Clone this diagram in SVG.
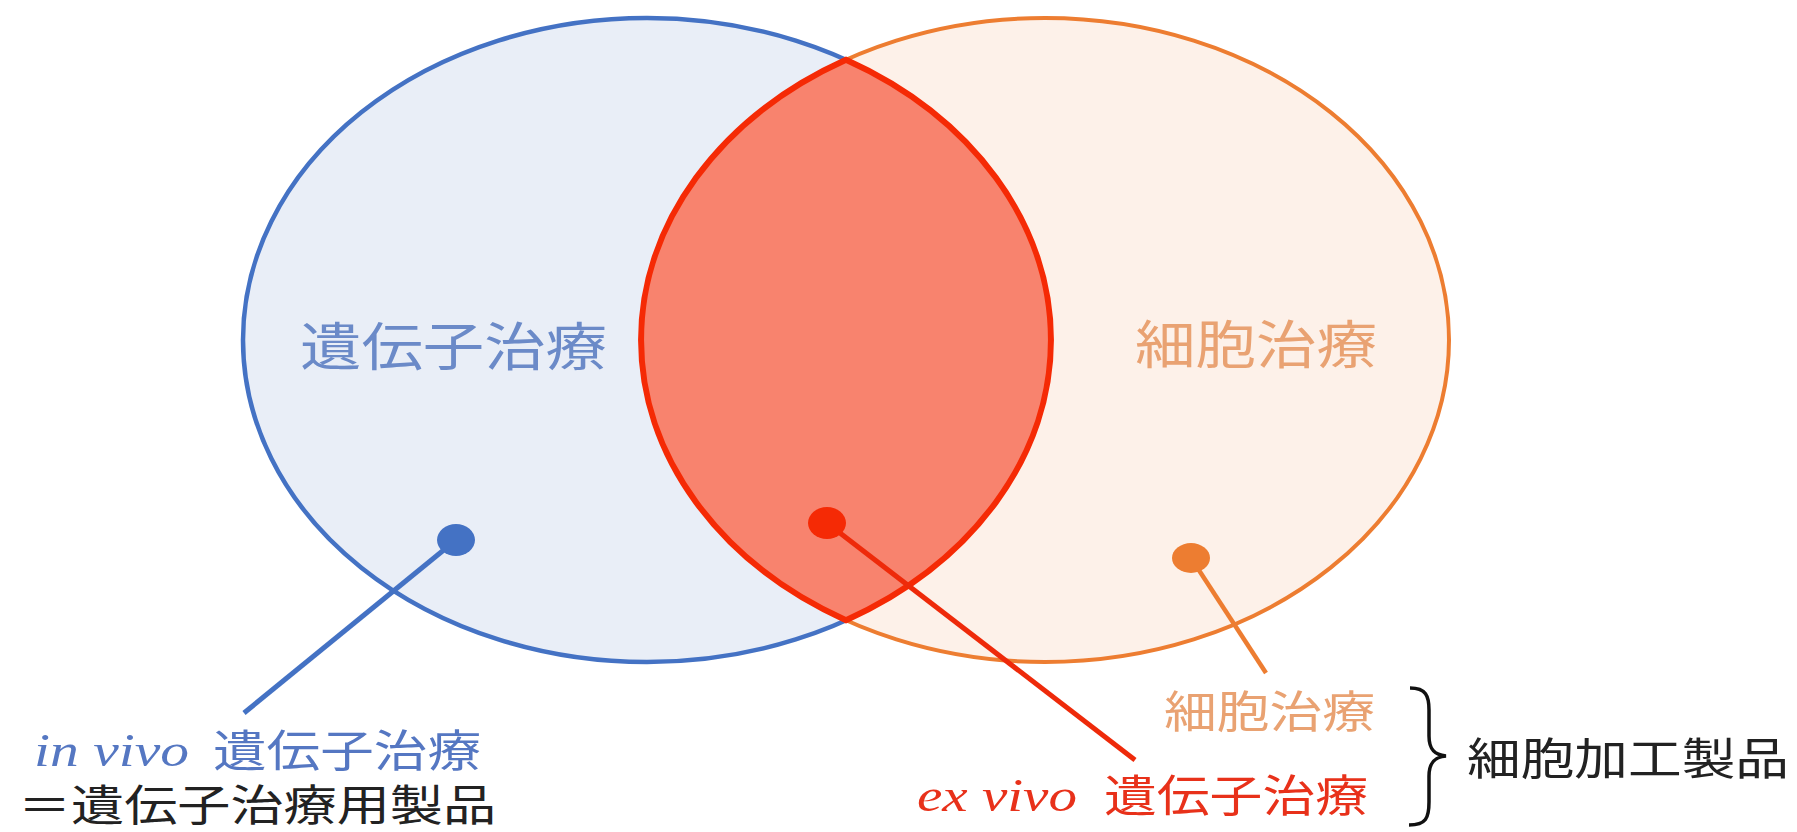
<svg xmlns="http://www.w3.org/2000/svg" width="1797" height="832" viewBox="0 0 1797 832">
<style>
.jp{font-family:"Noto Sans CJK JP","Noto Sans CJK SC",sans-serif;}
.lat{font-family:"Liberation Serif",serif;font-style:italic;}
.blue{fill:#5577C2;}
.bigblue{fill:#6B8AC8;}
.orange{fill:#E9A272;}
.red{fill:#E8311A;}
.black{fill:#222222;}
</style>
<rect width="1797" height="832" fill="#ffffff"/>
<g id="gene-therapy">
<ellipse cx="647" cy="340" rx="404" ry="322" fill="#E9EEF7" stroke="#4472C4" stroke-width="4.5"/>
</g>
<g id="cell-therapy">
<ellipse cx="1045" cy="340" rx="404" ry="322" fill="#FDF1E9" stroke="#ED7D31" stroke-width="4"/>
</g>
<g id="overlap">
<path d="M846 59.8 A404 322 0 0 0 846 620.2 A404 322 0 0 0 846 59.8 Z" fill="#F8836E" stroke="#F52A05" stroke-width="6"/>
</g>
<g id="labels-inside">
<text class="jp bigblue" x="300" y="366" font-size="52" textLength="307" lengthAdjust="spacingAndGlyphs">遺伝子治療</text>
<text class="jp orange" x="1135" y="364" font-size="52" textLength="242" lengthAdjust="spacingAndGlyphs">細胞治療</text>
</g>
<g id="connectors">
<line x1="456" y1="540" x2="244" y2="713" stroke="#4472C4" stroke-width="5"/>
<line x1="827" y1="523" x2="1135" y2="760" stroke="#EE2A0A" stroke-width="5"/>
<line x1="1191" y1="558" x2="1266" y2="673" stroke="#ED7D31" stroke-width="4.5"/>
<path d="M1410 688 C1426 688 1429 696 1429 710 L1429 736 C1429 749 1434 755 1446 756 C1434 757 1429 763 1429 776 L1429 802 C1429 818 1426 825 1409 825" fill="none" stroke="#111111" stroke-width="3.5"/>
</g>
<g id="dot-invivo"><ellipse cx="456" cy="540" rx="19" ry="16" fill="#4472C4"/></g>
<g id="dot-exvivo"><ellipse cx="827" cy="523" rx="19" ry="16" fill="#F52A05"/></g>
<g id="dot-cell"><ellipse cx="1191" cy="558" rx="19" ry="15" fill="#ED7D31"/></g>
<g id="label-invivo">
<text class="lat blue" x="34" y="766" font-size="46" textLength="155" lengthAdjust="spacingAndGlyphs">in vivo</text>
<text class="jp blue" x="213" y="767" font-size="44" textLength="268" lengthAdjust="spacingAndGlyphs">遺伝子治療</text>
<text class="jp black" x="18" y="821" font-size="43" textLength="478" lengthAdjust="spacingAndGlyphs">＝遺伝子治療用製品</text>
</g>
<g id="label-cell">
<text class="jp orange" x="1164" y="728" font-size="44" textLength="211" lengthAdjust="spacingAndGlyphs">細胞治療</text>
</g>
<g id="label-exvivo">
<text class="lat red" x="917" y="811" font-size="46" textLength="160" lengthAdjust="spacingAndGlyphs">ex vivo</text>
<text class="jp red" x="1104" y="812" font-size="44" textLength="264" lengthAdjust="spacingAndGlyphs">遺伝子治療</text>
</g>
<g id="label-product">
<text class="jp black" x="1467" y="775" font-size="44" textLength="322" lengthAdjust="spacingAndGlyphs">細胞加工製品</text>
</g>
</svg>
